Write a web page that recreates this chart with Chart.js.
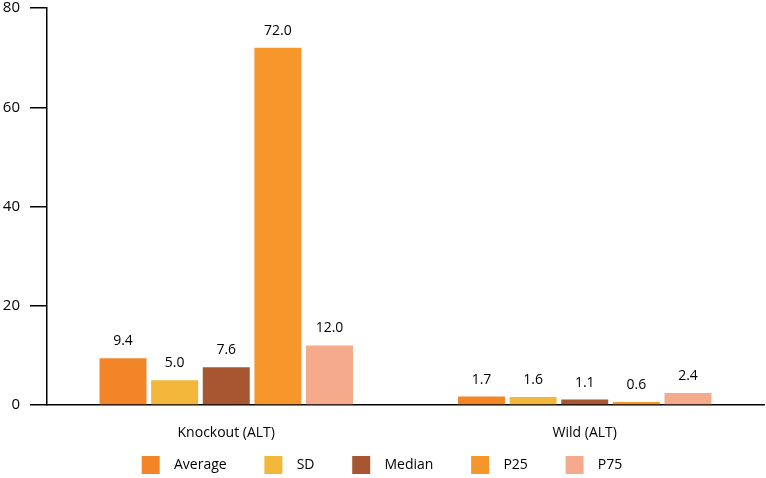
<!DOCTYPE html>
<html lang="en">
<head>
    <meta charset="UTF-8">
    <title>ALT statistics</title>
    <script src="https://cdn.jsdelivr.net/npm/chart.js"></script>
    <style>
        html, body {
            margin: 0;
            padding: 0;
            background: #fff;
        }
        .chart-container {
            position: relative;
            width: 766px;
            height: 478px;
        }
    </style>
</head>
<body>
    <div class="chart-container">
        <canvas id="altChart"></canvas>
    </div>

    <script>
        // Data
        const categories = ['Knockout (ALT)', 'Wild (ALT)'];
        const seriesNames = ['Average', 'SD', 'Median', 'P25', 'P75'];
        const averageValues = [9.4, 1.7];
        const sdValues = [5.0, 1.6];
        const medianValues = [7.6, 1.1];
        const p25Values = [72.0, 0.6];
        const p75Values = [12.0, 2.4];
        const yTicks = [0, 20, 40, 60, 80];

        const seriesValues = [averageValues, sdValues, medianValues, p25Values, p75Values];
        const colors = ['#F28527', '#F2B73A', '#A85532', '#F7972B', '#F5AB8B'];
        const fontFamily = "'Open Sans', 'Noto Sans', sans-serif";

        // Draws the value above each bar
        const valueLabels = {
            id: 'valueLabels',
            afterDatasetsDraw(chart) {
                const ctx = chart.ctx;
                ctx.save();
                ctx.font = '14px ' + fontFamily;
                ctx.fillStyle = '#000';
                ctx.textAlign = 'center';
                ctx.textBaseline = 'middle';
                chart.data.datasets.forEach((ds, i) => {
                    chart.getDatasetMeta(i).data.forEach((bar, j) => {
                        ctx.fillText(ds.data[j].toFixed(1), bar.x, bar.y - 17);
                    });
                });
                ctx.restore();
            }
        };

        const ctx = document.getElementById('altChart').getContext('2d');
        new Chart(ctx, {
            type: 'bar',
            data: {
                labels: categories,
                datasets: seriesNames.map((name, i) => ({
                    label: name,
                    data: seriesValues[i],
                    backgroundColor: colors[i],
                    categoryPercentage: 0.72,
                    barPercentage: 0.91
                }))
            },
            options: {
                responsive: true,
                maintainAspectRatio: false,
                animation: false,
                layout: {
                    padding: { top: 0, right: 2, left: 0, bottom: -6 }
                },
                scales: {
                    x: {
                        grid: { display: false },
                        border: { color: '#000', width: 1.5 },
                        ticks: {
                            color: '#000',
                            padding: 12,
                            font: { family: fontFamily, size: 14 }
                        },
                        afterFit(axis) {
                            axis.height = 46;
                        }
                    },
                    y: {
                        min: 0,
                        max: 80,
                        afterBuildTicks(axis) {
                            axis.ticks = yTicks.map(v => ({ value: v }));
                        },
                        afterFit(axis) {
                            axis.width = 47;
                            axis.paddingTop = 8;
                            axis.paddingBottom = 0;
                        },
                        grid: {
                            drawOnChartArea: false,
                            drawTicks: true,
                            tickLength: 17,
                            color: '#000',
                            lineWidth: 1.5
                        },
                        border: { color: '#000', width: 1.5 },
                        ticks: {
                            color: '#000',
                            padding: 10,
                            font: { family: fontFamily, size: 15 }
                        }
                    }
                },
                plugins: {
                    legend: {
                        position: 'bottom',
                        labels: {
                            boxWidth: 18,
                            boxHeight: 18,
                            padding: 5,
                            color: '#000',
                            font: { family: fontFamily, size: 14 },
                            generateLabels(chart) {
                                const n = chart.data.datasets.length;
                                return chart.data.datasets.map((ds, i) => ({
                                    text: '  ' + ds.label + (i < n - 1 ? '         ' : ''),
                                    fillStyle: ds.backgroundColor,
                                    strokeStyle: ds.backgroundColor,
                                    lineWidth: 0,
                                    datasetIndex: i
                                }));
                            }
                        }
                    },
                    tooltip: { enabled: false }
                }
            },
            plugins: [valueLabels]
        });
    </script>
</body>
</html>
